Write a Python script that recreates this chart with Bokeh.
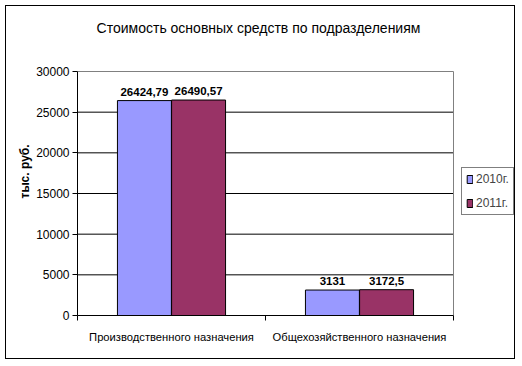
from bokeh.plotting import figure
from bokeh.models import (ColumnDataSource, FixedTicker, Range1d, Legend, LegendItem, Title)
from bokeh.core.properties import value
from bokeh.embed import file_html
from bokeh.resources import INLINE

# ---- data ----
title_text = "Стоимость основных средств по подразделениям"
categories = ["Производственного назначения", "Общехозяйственного назначения"]
series_names = ["2010г.", "2011г."]
values_2010 = [26424.79, 3131]
values_2011 = [26490.57, 3172.5]
labels_2010 = ["26424,79", "3131"]
labels_2011 = ["26490,57", "3172,5"]
y_ticks = [0, 5000, 10000, 15000, 20000, 25000, 30000]
y_label = "тыс. руб."

FONT = "Liberation Sans"
C2010 = "#9999FF"
C2011 = "#993366"

n = len(categories)
ymax = y_ticks[-1]
centers = [i + 0.5 for i in range(n)]
bw = 0.287
off = 0.144

# layout (pixels)
W, H = 510, 354
LEFT, TOP, BOTTOM, RIGHT = 71, 2, 45, 0
PLOT_W, PLOT_H = 376, 244            # the plot area proper
FRAME_W = W - LEFT - RIGHT           # frame widened to hold the legend
FRAME_H = H - TOP - BOTTOM           # frame heightened to hold the title
x_end = n * FRAME_W / PLOT_W
y_end = ymax * FRAME_H / PLOT_H

src10 = ColumnDataSource(dict(x=[c - off for c in centers], top=values_2010, lab=labels_2010))
src11 = ColumnDataSource(dict(x=[c + off for c in centers], top=values_2011, lab=labels_2011))

p = figure(width=W, height=H, output_backend="svg", toolbar_location=None, title=None,
           x_range=Range1d(0, x_end), y_range=Range1d(0, y_end),
           min_border_left=LEFT, min_border_right=RIGHT, min_border_top=TOP, min_border_bottom=BOTTOM)
p.styles = {"border": "1px solid black", "margin": "5px 0 0 5px"}
p.background_fill_color = "white"
p.border_fill_color = "white"
p.outline_line_color = None
p.xgrid.visible = False
p.ygrid.visible = False

xa = p.xaxis[0]
ya = p.yaxis[0]

# horizontal grid lines across the plot area only
grid_y = y_ticks[1:-1]
p.segment(x0=[0] * len(grid_y), x1=[n] * len(grid_y), y0=grid_y, y1=grid_y,
          line_color="black", line_width=1)
# grey plot-area border (top and right)
p.segment(x0=[0, n], y0=[ymax, 0], x1=[n, n], y1=[ymax, ymax], line_color="#808080", line_width=1)

r10 = p.vbar(x="x", top="top", width=bw, source=src10, fill_color=C2010, line_color="black", line_width=1)
r11 = p.vbar(x="x", top="top", width=bw, source=src11, fill_color=C2011, line_color="black", line_width=1)

for s in (src10, src11):
    p.text(x="x", y="top", text="lab", source=s, text_align="center", text_baseline="bottom",
           y_offset=-5, text_font=value(FONT), text_font_size="11.5px", text_font_style="bold",
           text_color="black")

# chart title, centred over the plot area
p.text(x=[n / 2], y=[ymax], text=[title_text], text_align="center", text_baseline="middle",
       x_offset=-7, y_offset=-44, text_font=value(FONT), text_font_size="14px",
       text_font_style="normal", text_color="black")

# x axis
xa.bounds = (0, n)
xa.ticker = FixedTicker(ticks=centers, minor_ticks=list(range(n + 1)))
xa.major_label_overrides = {c: categories[i] for i, c in enumerate(centers)}
xa.major_tick_line_color = None
xa.major_tick_out = 0
xa.major_tick_in = 0
xa.minor_tick_out = 5
xa.minor_tick_in = 0
xa.minor_tick_line_color = "black"
xa.axis_line_color = "black"
xa.major_label_standoff = 10
xa.major_label_text_font = FONT
xa.major_label_text_font_size = "11.2px"
xa.major_label_text_color = "black"

# y axis
ya.bounds = (0, ymax)
ya.ticker = FixedTicker(ticks=y_ticks)
ya.major_tick_out = 5
ya.major_tick_in = 0
ya.minor_tick_line_color = None
ya.axis_line_color = "black"
ya.major_tick_line_color = "black"
ya.major_label_standoff = 3
ya.major_label_text_font = FONT
ya.major_label_text_font_size = "12px"
ya.major_label_text_color = "black"

# y axis title (rotated), placed by offset from the bottom of the plot area
p.add_layout(Title(text=y_label, align="left", offset=117, standoff=4, text_font=FONT,
                   text_font_size="12px", text_font_style="bold", text_color="black"), "left")

legend = Legend(items=[LegendItem(label=series_names[0], renderers=[r10]),
                       LegendItem(label=series_names[1], renderers=[r11])],
                location=(384, 100), orientation="vertical",
                glyph_width=7, glyph_height=10, label_height=14, label_standoff=3,
                spacing=10, padding=4, margin=0,
                label_text_font=FONT, label_text_font_size="12px",
                border_line_color="black", border_line_width=1,
                background_fill_alpha=1)
p.add_layout(legend, "center")

open("out.html", "w").write(file_html(p, INLINE))
